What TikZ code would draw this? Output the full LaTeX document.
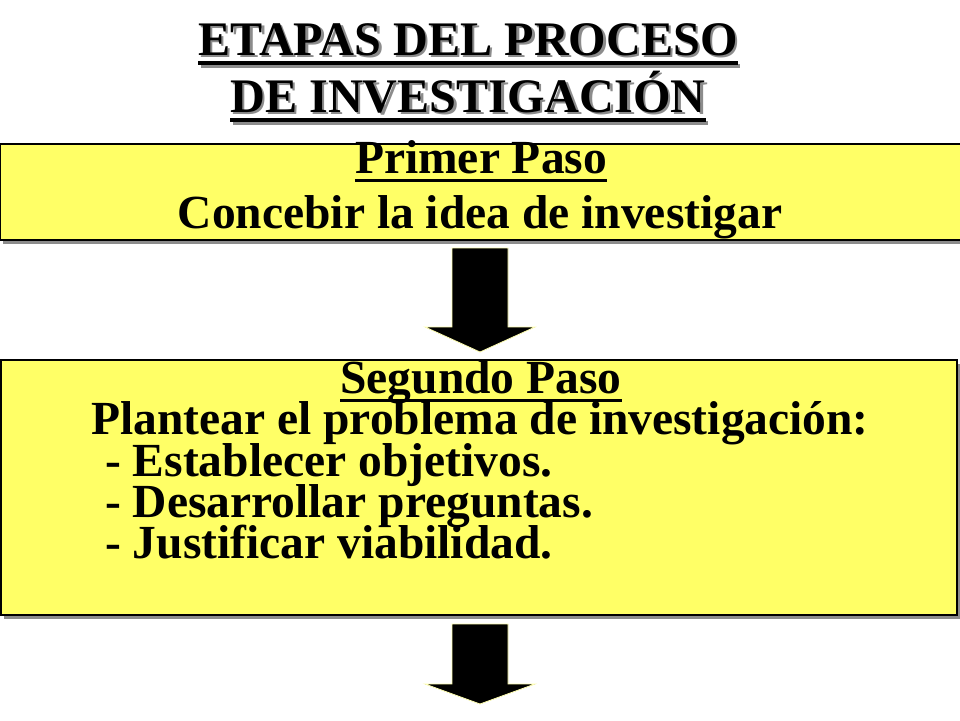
\documentclass[tikz,border=0pt]{standalone}
\usepackage{fontspec}
\setmainfont{Liberation Serif}
\usetikzlibrary{shadows}
\definecolor{boxyellow}{HTML}{FFFF66}
\definecolor{shadowgray}{HTML}{8C8C8C}
\definecolor{arrowedge}{HTML}{FFFFB0}
\begin{document}
\begin{tikzpicture}[x=1pt,y=-1pt,
  bigtxt/.style={font=\bfseries\fontsize{47.5}{47.5}\selectfont, inner sep=0pt, anchor=base},
  titletxt/.style={font=\bfseries\fontsize{48.2}{48.2}\selectfont, inner sep=0pt, anchor=base},
  box/.style={draw=black, line width=2pt, fill=boxyellow, inner sep=0pt,
    drop shadow={shadow xshift=3pt, shadow yshift=-4pt, fill=shadowgray, opacity=1}},
  blockarrow/.style={fill=black, draw=arrowedge, line width=0.8pt, line join=miter},
  uline/.style={line width=3pt},
  tline/.style={line width=4pt}]
\useasboundingbox (0,0) rectangle (960,720);
\fill[white] (0,0) rectangle (960,720);

% title with shadow
\node[titletxt, text=shadowgray] (t1s) at (470.5,57.5) {ETAPAS DEL PROCESO};
\node[titletxt, text=shadowgray] (t2s) at (470.5,114.5) {DE INVESTIGACIÓN};
\draw[tline, shadowgray] ([yshift=-8pt]t1s.base west) -- ([yshift=-8pt]t1s.base east);
\draw[tline, shadowgray] ([yshift=-8pt]t2s.base west) -- ([yshift=-8pt]t2s.base east);
\node[titletxt] (t1) at (468,55) {ETAPAS DEL PROCESO};
\node[titletxt] (t2) at (468,112) {DE INVESTIGACIÓN};
\draw[tline] ([yshift=-8pt]t1.base west) -- ([yshift=-8pt]t1.base east);
\draw[tline] ([yshift=-8pt]t2.base west) -- ([yshift=-8pt]t2.base east);

% box 1
\node[box, minimum width=962pt, minimum height=96pt] (b1) at (481,192) {};
\node[bigtxt] (p1) at (481,173) {Primer Paso};
\draw[uline] ([yshift=-7pt]p1.base west) -- ([yshift=-7pt]p1.base east);
\node[bigtxt] (c1) at (480,228) {Concebir la idea de investigar};

% arrow 1
\draw[blockarrow] (452,248) -- (508,248) -- (508,327) -- (535,327) -- (480,352)
  -- (425,327) -- (452,327) -- cycle;

% box 2
\node[box, minimum width=956pt, minimum height=255pt] (b2) at (479,487.5) {};
\node[bigtxt] (p2) at (481,393) {Segundo Paso};
\draw[uline] ([yshift=-7pt]p2.base west) -- ([yshift=-7pt]p2.base east);
\node[bigtxt] (c2) at (480,434) {Plantear el problema de investigación:};
\node[bigtxt, anchor=base west] (l1) at (105,476) {- Establecer objetivos.};
\node[bigtxt, anchor=base west] (l2) at (105,517) {- Desarrollar preguntas.};
\node[bigtxt, anchor=base west] (l3) at (105,558) {- Justificar viabilidad.};

% arrow 2
\draw[blockarrow] (452,624) -- (508,624) -- (508,684) -- (535,684) -- (480,704)
  -- (425,684) -- (452,684) -- cycle;
\end{tikzpicture}
\end{document}
